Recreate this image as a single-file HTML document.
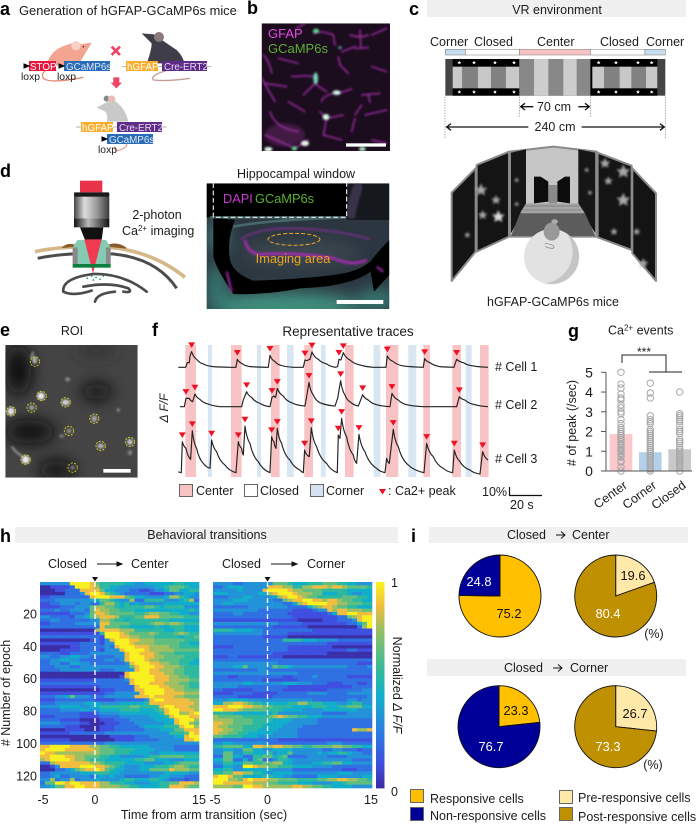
<!DOCTYPE html>
<html lang="en">
<head>
<meta charset="utf-8">
<title>hGFAP-GCaMP6s figure</title>
<style>
html,body{margin:0;padding:0;background:#fff;width:696px;height:824px;overflow:hidden}
svg{display:block}
text{font-family:"Liberation Sans",sans-serif;fill:#1c1c1c;font-size:12.5px}
.pl{font-weight:bold;font-size:18px;fill:#000}
.m{text-anchor:middle}
.e{text-anchor:end}
</style>
</head>
<body>
<svg id="fig" width="696" height="824" viewBox="0 0 696 824" xmlns="http://www.w3.org/2000/svg">
<defs>
<polygon id="star" points="0,-10 2.9,-3.1 9.5,-3.1 4.7,1.5 5.9,8.1 0,4.5 -5.9,8.1 -4.7,1.5 -9.5,-3.1 -2.9,-3.1"/>
<filter id="b1" x="-20%" y="-20%" width="140%" height="140%"><feGaussianBlur stdDeviation="3"/></filter>
<filter id="b2" x="-30%" y="-30%" width="160%" height="160%"><feGaussianBlur stdDeviation="5"/></filter>
<filter id="b3" x="-50%" y="-50%" width="200%" height="200%"><feGaussianBlur stdDeviation="24"/></filter>
<linearGradient id="lens" x1="0" x2="1" y1="0" y2="0"><stop offset="0" stop-color="#444"/><stop offset=".3" stop-color="#ddd"/><stop offset=".65" stop-color="#999"/><stop offset="1" stop-color="#3a3a3a"/></linearGradient>
<linearGradient id="lens2" x1="0" x2="1" y1="0" y2="0"><stop offset="0" stop-color="#111"/><stop offset=".4" stop-color="#bbb"/><stop offset="1" stop-color="#111"/></linearGradient>
<clipPath id="clipB"><rect x="20" y="25" width="385" height="383"/></clipPath>
<clipPath id="clipD"><rect x="620" y="70" width="548" height="377"/></clipPath>
<clipPath id="clipE"><rect x="16" y="105" width="397" height="398"/></clipPath>
</defs>

<!-- panel letters -->
<text class="pl" x="0" y="15">a</text>
<text class="pl" x="247" y="14">b</text>
<text class="pl" x="409" y="15">c</text>
<text class="pl" x="0" y="177">d</text>
<text class="pl" x="0" y="336">e</text>
<text class="pl" x="152" y="336">f</text>
<text class="pl" x="568" y="337">g</text>
<text class="pl" x="0" y="542">h</text>
<text class="pl" x="411" y="542">i</text>

<!-- panel a -->
<g>
<text x="19" y="15" style="font-size:12.9px">Generation of hGFAP-GCaMP6s mice</text>
<g transform="scale(0.3333)">
<path d="M140,195 Q150,150 200,135 Q225,125 245,132 L275,128 L262,150 Q250,170 235,195 Q200,200 140,195Z" fill="#f4a591"/>
<circle cx="228" cy="137" r="14" fill="#f9cfc6"/><circle cx="250" cy="140" r="2.5" fill="#522"/>
<path d="M150,205 Q120,215 130,235 Q150,252 250,232" fill="none" stroke="#e88a78" stroke-width="4"/>
<path d="M425,100 L462,103 Q500,130 530,150 Q550,170 553,190 L440,190 Q455,150 455,130 Z" fill="#3f3d4a"/>
<circle cx="477" cy="111" r="15" fill="#8a7a7a"/>
<path d="M500,212 Q450,225 460,240 Q500,245 570,235" fill="none" stroke="#c49c98" stroke-width="4"/>
<path d="M290,323 Q320,305 340,300 Q375,320 385,365 L320,365 Q325,345 315,335 Z" fill="#c9c9c9"/>
<circle cx="320" cy="296" r="9" fill="#888"/><circle cx="335" cy="297" r="11" fill="#e8bfb8"/>
<path d="M335,140 L360,165 M360,140 L335,165" stroke="#ee4466" stroke-width="8"/>
<path d="M340,232 H358 V248 H366 L349,265 L332,248 H340Z" fill="#ee4466"/>
<path d="M345,440 Q340,458 365,448 Q385,440 380,425" fill="none" stroke="#e88a78" stroke-width="3"/>
<path d="M365,200 H635 M228,381 H500" stroke="#999" stroke-width="2"/>
</g>
<rect x="29" y="61" width="27" height="10" fill="#e8173c"/>
<rect x="64" y="61" width="46" height="10" fill="#2b6cb8"/>
<rect x="126" y="61" width="32" height="10" fill="#f9ae2d"/>
<rect x="162" y="61" width="45" height="10" fill="#5f2c8a"/>
<rect x="81" y="122" width="32" height="10" fill="#f9ae2d"/>
<rect x="117" y="122" width="45" height="10" fill="#5f2c8a"/>
<rect x="107" y="134" width="46" height="10" fill="#2b6cb8"/>
<path d="M24,64 L29,66 L24,68Z M59,64 L64,66 L59,68Z M102,137 L107,139 L102,141Z" fill="#000" stroke="#000"/>
<text x="30" y="70" style="font-size:9.8px;fill:#fff">STOP</text>
<text x="66" y="70" style="font-size:9.8px;fill:#dfe9f7">GCaMP6s</text>
<text x="127" y="70" style="font-size:9.8px;fill:#fff">hGFAP</text>
<text x="164" y="70" style="font-size:9.8px;fill:#e8dcf2">Cre-ERT2</text>
<text x="82" y="131" style="font-size:9.8px;fill:#fff">hGFAP</text>
<text x="119" y="131" style="font-size:9.8px;fill:#e8dcf2">Cre-ERT2</text>
<text x="109" y="143" style="font-size:9.8px;fill:#dfe9f7">GCaMP6s</text>
<text x="21" y="80" style="font-size:10.4px">loxp</text>
<text x="57" y="80" style="font-size:10.4px">loxp</text>
<text x="98" y="153" style="font-size:10.4px">loxp</text>
</g>

<!-- panel b -->
<g transform="translate(255,15) scale(0.3333)">
<g clip-path="url(#clipB)">
<rect x="20" y="25" width="385" height="383" fill="#1b0c1e"/>
<g filter="url(#b1)" fill="none" stroke="#b034b4" stroke-width="4.5" stroke-linecap="round" opacity=".9">
<path d="M175,55 Q200,45 235,60 L240,90 M285,60 Q315,70 340,60 M315,45 L318,100 M300,100 L340,98 M25,120 Q45,140 50,175 M20,190 L60,260 M110,185 Q150,180 185,185 M185,200 L145,240 M185,210 L215,230 M250,125 L255,150 L280,175 M350,155 L395,170 M235,235 Q200,245 200,260 M250,235 L290,222 M320,240 L375,235 M340,240 L345,262 M195,290 L215,310 L265,300 M215,310 L205,360 L260,375 M120,400 L160,375 M300,300 L320,270 M300,310 L290,350 M45,290 Q60,340 130,350 M30,205 L95,215 M70,130 L130,145 M350,375 L395,385 M260,110 L300,95 M350,60 L395,40 M330,300 L395,285 M100,260 L150,290 M125,40 L150,25 M30,360 L110,395"/>
</g>
<g opacity=".3" filter="url(#b2)"><ellipse cx="90" cy="360" rx="60" ry="35" fill="#a040a0"/></g>
<g filter="url(#b1)">
<ellipse cx="183" cy="48" rx="9" ry="7" fill="#5cdf8a"/><ellipse cx="182" cy="190" rx="7" ry="18" fill="#70d8b0"/><ellipse cx="245" cy="233" rx="12" ry="7" fill="#d0fce8"/><ellipse cx="213" cy="306" rx="10" ry="9" fill="#d8ffe4"/><ellipse cx="40" cy="403" rx="12" ry="7" fill="#e8fff0"/><ellipse cx="118" cy="400" rx="8" ry="6" fill="#60e890"/><ellipse cx="150" cy="385" rx="12" ry="8" fill="#eef6f0"/><ellipse cx="322" cy="402" rx="10" ry="6" fill="#b8f0c8"/><ellipse cx="255" cy="98" rx="6" ry="4" fill="#5a9"/>
</g>
<rect x="273" y="385" width="120" height="10" fill="#fff"/>
</g>
</g>
<text x="268" y="38" style="fill:#e24ce2;font-size:13px">GFAP</text>
<text x="268" y="53" style="fill:#5cb030;font-size:13px">GCaMP6s</text>

<!-- panel c -->
<g>
<rect x="427" y="0" width="259" height="17" fill="#f0f0f0"/>
<text class="m" x="557" y="14">VR environment</text>
<text x="430" y="46">Corner</text>
<text x="474" y="46">Closed</text>
<text x="537" y="46">Center</text>
<text x="600" y="46">Closed</text>
<text x="646" y="46">Corner</text>
<g transform="translate(410,0) scale(0.3333)">
<g stroke="#777" stroke-width="1.5">
<rect x="106" y="148" width="60" height="17" fill="#c6dcef"/><rect x="166" y="148" width="162" height="17" fill="#fff"/><rect x="328" y="148" width="213" height="17" fill="#f8c3c5"/><rect x="541" y="148" width="164" height="17" fill="#fff"/><rect x="705" y="148" width="61" height="17" fill="#c6dcef"/>
</g>
<rect x="106" y="177" width="660" height="110" fill="#444"/>
<rect x="128" y="177" width="200" height="110" fill="#000"/><rect x="541" y="177" width="201" height="110" fill="#000"/>
<g fill="#c8c8c8"><rect x="128" y="200" width="29" height="65"/><rect x="203" y="200" width="40" height="65"/><rect x="287" y="200" width="41" height="65"/><rect x="547" y="200" width="36" height="65"/><rect x="628" y="200" width="37" height="65"/><rect x="708" y="200" width="34" height="65"/></g>
<g fill="#828282"><rect x="157" y="200" width="46" height="65"/><rect x="243" y="200" width="44" height="65"/><rect x="583" y="200" width="45" height="65"/><rect x="665" y="200" width="43" height="65"/></g>
<rect x="328" y="177" width="213" height="110" fill="#888"/>
<rect x="372" y="177" width="43" height="110" fill="#cdcdcd"/><rect x="460" y="177" width="40" height="110" fill="#cdcdcd"/>
<g fill="#fff">
<use href="#star" transform="translate(148,188) scale(.6)"/><use href="#star" transform="translate(192,188) scale(.6)"/><use href="#star" transform="translate(255,188) scale(.6)"/><use href="#star" transform="translate(312,188) scale(.6)"/><use href="#star" transform="translate(566,188) scale(.6)"/><use href="#star" transform="translate(618,188) scale(.6)"/><use href="#star" transform="translate(684,188) scale(.6)"/><use href="#star" transform="translate(725,188) scale(.6)"/>
<use href="#star" transform="translate(148,276) scale(.6)"/><use href="#star" transform="translate(192,276) scale(.6)"/><use href="#star" transform="translate(255,276) scale(.6)"/><use href="#star" transform="translate(312,276) scale(.6)"/><use href="#star" transform="translate(566,276) scale(.6)"/><use href="#star" transform="translate(618,276) scale(.6)"/><use href="#star" transform="translate(684,276) scale(.6)"/><use href="#star" transform="translate(725,276) scale(.6)"/>
</g>
<path d="M105,290 V415 M766,290 V415 M328,290 V350 M541,290 V350" stroke="#777" stroke-width="2" stroke-dasharray="4 4" fill="none"/>
<g fill="none" stroke="#111" stroke-width="4">
<path d="M332,320 H370 M345,310 L332,320 L345,330 M505,320 H537 M525,310 L538,320 L525,330"/>
<path d="M110,381 H355 M123,371 L110,381 L123,391 M515,381 H762 M750,371 L763,381 L750,391"/>
</g>
<!-- VR screens -->
<g stroke="#8a8a8a" stroke-width="6" stroke-linejoin="round">
<polygon points="125,578 197,505 197,755 125,843" fill="#141414"/>
<polygon points="200,495 297,455 297,710 200,755" fill="#141414"/>
<polygon points="300,455 430,440 560,455 560,710 300,710" fill="#c6c6c6"/>
<polygon points="563,458 665,497 665,750 563,712" fill="#141414"/>
<polygon points="667,505 738,580 738,843 667,760" fill="#141414"/>
</g>
<polygon points="303,458 348,448 348,620 303,700" fill="#161616"/>
<polygon points="505,448 556,458 556,700 505,620" fill="#161616"/>
<polygon points="372,530 392,530 415,545 415,605 372,610" fill="#0c0c0c"/>
<polygon points="442,545 465,530 480,530 480,610 442,605" fill="#0c0c0c"/>
<rect x="416" y="555" width="25" height="55" fill="#8a8a8a"/>
<polygon points="348,610 505,610 525,640 330,640" fill="#a5a5a5"/>
<polygon points="330,640 525,640 556,708 303,708" fill="#5c5c5c"/>
<g stroke="#777" stroke-width="2"><path d="M345,618 H510 M338,630 H518"/></g>
<g fill="#a8a8a8" filter="url(#b1)">
<use href="#star" transform="translate(213,570) scale(2)"/><use href="#star" transform="translate(258,600) scale(1.5)"/><use href="#star" transform="translate(265,650) scale(2)" fill="#ddd"/><use href="#star" transform="translate(218,645) scale(1.5)"/><use href="#star" transform="translate(172,705) scale(1)"/><use href="#star" transform="translate(320,540) scale(.8)"/><use href="#star" transform="translate(320,612) scale(.8)"/><use href="#star" transform="translate(530,510) scale(.8)"/><use href="#star" transform="translate(540,578) scale(.8)"/><use href="#star" transform="translate(585,490) scale(1.7)"/><use href="#star" transform="translate(640,515) scale(2.2)"/><use href="#star" transform="translate(595,543) scale(1.4)"/><use href="#star" transform="translate(640,600) scale(2.2)"/><use href="#star" transform="translate(612,695) scale(1.2)"/><use href="#star" transform="translate(680,695) scale(1.2)"/><use href="#star" transform="translate(700,790) scale(1.6)"/>
</g>
<circle cx="425" cy="770" r="83" fill="#e2e2e2"/>
<path d="M470,700 A83,83 0 0 1 405,850 A95,95 0 0 0 470,700Z" fill="#c5c5c5"/>
<ellipse cx="425" cy="695" rx="24" ry="27" fill="#999"/><ellipse cx="434" cy="665" rx="10" ry="7" fill="#aaa"/>
<path d="M405,730 Q440,735 430,745 Q410,745 405,738" fill="none" stroke="#777" stroke-width="2"/>
</g>
<text class="m" x="554" y="111">70 cm</text>
<text class="m" x="555" y="131">240 cm</text>
<text class="m" x="553" y="306">hGFAP-GCaMP6s mice</text>
</g>

<!-- panel d -->
<g>
<g transform="translate(0,160) scale(0.3333)">
<path d="M105,275 Q200,255 330,262 Q460,275 555,352" fill="none" stroke="#d4b888" stroke-width="11"/>
<path d="M113,295 Q210,275 340,282 Q470,295 530,385" fill="none" stroke="#4c4c4c" stroke-width="9"/>
<path d="M190,262 Q205,248 232,258 Z M320,258 Q350,245 378,264 Z" fill="#8a5a2a" stroke="#8a5a2a" stroke-width="4"/>
<rect x="240" y="62" width="67" height="35" fill="#e8334a"/>
<rect x="222" y="97" width="106" height="14" fill="#1a1a1a" rx="3"/>
<rect x="222" y="110" width="106" height="65" fill="url(#lens)"/>
<rect x="222" y="175" width="106" height="27" fill="url(#lens2)"/>
<polygon points="240,202 310,202 305,240 255,240" fill="#111"/>
<polygon points="232,240 318,240 332,262 332,312 218,312 218,262" fill="#85cbb4"/>
<path d="M218,262 H233 V312 H218Z M318,262 H332 V312 H318Z" fill="#8a8a8a"/>
<polygon points="253,238 305,238 279,340" fill="#ef3a50"/>
<rect x="218" y="312" width="114" height="11" fill="#0c7f3f"/>
<path d="M190,395 Q185,355 280,342 Q370,340 440,395 M250,380 Q330,365 385,385 Q400,400 370,395 M190,395 Q220,410 275,392 M285,425 Q290,400 345,395" fill="none" stroke="#4c4c4c" stroke-width="8" stroke-linecap="round"/>
<g fill="#0c8f5f"><circle cx="262" cy="355" r="2.5"/><circle cx="275" cy="348" r="2.5"/><circle cx="288" cy="352" r="2.5"/><circle cx="300" cy="358" r="2.5"/><circle cx="310" cy="348" r="2.5"/><circle cx="280" cy="360" r="2.5"/></g>
</g>
<text class="m" x="157" y="219">2-photon</text>
<text x="122" y="235">Ca<tspan dy="-4" style="font-size:8px">2+</tspan><tspan dy="4"> imaging</tspan></text>
<text class="m" x="296" y="178">Hippocampal window</text>
<g transform="translate(0,160) scale(0.3333)">
<g clip-path="url(#clipD)">
<rect x="620" y="70" width="548" height="377" fill="#2c3640"/>
<g filter="url(#b3)"><ellipse cx="850" cy="440" rx="230" ry="45" fill="#3f9080"/><ellipse cx="650" cy="390" rx="35" ry="80" fill="#35766e"/><ellipse cx="1130" cy="420" rx="60" ry="35" fill="#357a72"/><ellipse cx="655" cy="230" rx="28" ry="50" fill="#44807e"/><ellipse cx="900" cy="280" rx="180" ry="40" fill="#3a4650"/></g>
<rect x="620" y="70" width="420" height="102" fill="#000"/>
<rect x="1040" y="70" width="128" height="110" fill="#15181c"/>
<path d="M1050,175 Q1060,110 1080,70" stroke="#3a3048" stroke-width="30" fill="none" filter="url(#b1)"/>
<path d="M640,172 L705,180 Q680,240 690,300 Q700,340 760,362 Q900,358 1000,345 Q1080,335 1110,305 L1112,335 Q1050,380 900,385 Q800,405 700,402 Q650,330 640,290 Z" fill="#000"/>
<path d="M1168,240 Q1120,290 1108,310 L1122,395 L1168,345 Z" fill="#000"/>
<path d="M630,172 H1040 Q800,180 700,200" fill="none" stroke="#5a8a88" stroke-width="8" opacity=".6"/>
<g fill="none" filter="url(#b1)">
<path d="M722,238 Q760,210 850,205 Q1000,205 1110,238" stroke="#7a2f90" stroke-width="5"/>
<path d="M735,240 Q745,290 800,282 Q900,278 1000,295 Q1060,320 1100,300" stroke="#a92cb2" stroke-width="8"/>
<path d="M680,335 L695,395" stroke="#a92cb2" stroke-width="6"/>
<path d="M1130,320 L1150,335" stroke="#a92cb2" stroke-width="6"/>
</g>
<path d="M640,70 V172 H1040 V70" fill="none" stroke="#e8e8e8" stroke-width="3.5" stroke-dasharray="14 8"/>
<ellipse cx="882" cy="238" rx="78" ry="18" fill="none" stroke="#f0a820" stroke-width="3" stroke-dasharray="12 6"/>
<rect x="1010" y="420" width="140" height="12" fill="#fff"/>
</g>
</g>
<text x="223" y="203" style="fill:#c83ad0;font-size:12.8px">DAPI</text>
<text x="255" y="203" style="fill:#5cb030;font-size:12.8px">GCaMP6s</text>
<text class="m" x="293" y="263" style="fill:#eda31e;font-size:12.8px">Imaging area</text>
</g>

<!-- panel e -->
<g>
<text class="m" x="72" y="335">ROI</text>
<g transform="translate(0,310) scale(0.3333)">
<g clip-path="url(#clipE)">
<rect x="16" y="105" width="397" height="398" fill="#444"/>
<g filter="url(#b3)" fill="#080808">
<ellipse cx="55" cy="180" rx="40" ry="75"/><ellipse cx="90" cy="365" rx="75" ry="35"/><ellipse cx="290" cy="245" rx="45" ry="25"/><ellipse cx="170" cy="480" rx="55" ry="28"/><ellipse cx="290" cy="120" rx="60" ry="15" fill="#2a2a2a"/>
</g>
<g filter="url(#b1)" fill="#fff">
<ellipse cx="104" cy="150" rx="8" ry="12" fill="#aaa"/><ellipse cx="123" cy="258" rx="11" ry="11" fill="#e8e8e8"/><ellipse cx="197" cy="277" rx="12" ry="9" fill="#d0d0d0"/><ellipse cx="33" cy="304" rx="11" ry="12" fill="#e0e0e0"/><ellipse cx="95" cy="293" rx="8" ry="8" fill="#a0a0a0"/><ellipse cx="283" cy="326" rx="9" ry="10" fill="#a0a0a0"/><ellipse cx="207" cy="363" rx="7" ry="7" fill="#909090"/><ellipse cx="390" cy="396" rx="9" ry="9" fill="#c0c0c0"/><ellipse cx="302" cy="408" rx="10" ry="8" fill="#b0b0b0"/><ellipse cx="77" cy="449" rx="12" ry="12" fill="#e8e8e8"/><ellipse cx="218" cy="473" rx="6" ry="7" fill="#808080"/><ellipse cx="203" cy="208" rx="7" ry="6" fill="#909090"/><ellipse cx="355" cy="300" rx="5" ry="5" fill="#909090"/><ellipse cx="390" cy="428" rx="7" ry="8" fill="#808080"/><ellipse cx="185" cy="378" rx="7" ry="5" fill="#808080"/>
<path d="M35,410 Q55,435 70,440 M100,125 L92,145" stroke="#aaa" stroke-width="5" fill="none"/>
</g>
<g fill="none" stroke="#e0d820" stroke-width="2.6" stroke-dasharray="6 4">
<circle cx="105" cy="155" r="14"/><circle cx="125" cy="258" r="14"/><circle cx="197" cy="277" r="14"/><circle cx="33" cy="304" r="14"/><circle cx="95" cy="293" r="14"/><circle cx="283" cy="326" r="14"/><circle cx="207" cy="363" r="14"/><circle cx="390" cy="396" r="14"/><circle cx="302" cy="408" r="14"/><circle cx="77" cy="449" r="14"/><circle cx="218" cy="473" r="14"/>
</g>
<rect x="310" y="477" width="82" height="11" fill="#fff"/>
</g>
</g>
</g>

<!-- panel f static -->
<g>
<text class="m" x="348" y="336" style="font-size:13.5px">Representative traces</text>
<text transform="translate(168,408) rotate(-90)" class="m" style="font-style:italic;font-size:12px">Δ F/F</text>
<g id="fBands"></g>
<g id="fTraces"></g>
<text x="495" y="371"># Cell 1</text>
<text x="495" y="409"># Cell 2</text>
<text x="495" y="463"># Cell 3</text>
<rect x="179.5" y="484.5" width="13" height="12" fill="#f8c3c5" stroke="#666"/>
<text x="196" y="495">Center</text>
<rect x="244.5" y="484.5" width="13" height="12" fill="#fff" stroke="#666"/>
<text x="260" y="495">Closed</text>
<rect x="310.5" y="484.5" width="13" height="12" fill="#d3e3f2" stroke="#666"/>
<text x="326" y="495">Corner</text>
<path d="M379,489 H386 L382.5,494.5Z" fill="#ee1122"/>
<text x="388" y="495">: Ca2+ peak</text>
<text x="482" y="496">10%</text>
<path d="M509.5,487 V495.5 H542" fill="none" stroke="#111" stroke-width="1.2"/>
<text x="510" y="509">20 s</text>
</g>

<!-- panel g static -->
<g>
<text x="608" y="334.5">Ca<tspan dy="-4" style="font-size:8px">2+</tspan><tspan dy="4"> events</tspan></text>
<path d="M622,363 V355 H666 V372 M649,372 H682" fill="none" stroke="#222"/>
<text class="m" x="644" y="356" style="font-size:12px">***</text>
<text transform="translate(576,423) rotate(-90)" class="m"># of peak (/sec)</text>
<g id="gChart"></g>
</g>

<!-- panel h static -->
<g>
<rect x="15" y="527" width="383" height="16" fill="#f0f0f0"/>
<text class="m" x="207" y="539">Behavioral transitions</text>
<text x="48" y="568">Closed</text>
<path d="M97,564 H120 M117,562 L122,564 L117,566Z" stroke="#111" fill="#111"/>
<text x="131" y="568">Center</text>
<text x="222" y="568">Closed</text>
<path d="M271,564 H295 M292,562 L297,564 L292,566Z" stroke="#111" fill="#111"/>
<text x="307" y="568">Corner</text>
<g id="heatGroup"></g>
<text transform="translate(10,693) rotate(-90)" class="m"># Number of epoch</text>
<text class="m" x="204" y="819">Time from arm transition (sec)</text>
<text x="391" y="587">1</text>
<text x="391" y="796">0</text>
<text transform="translate(393,685) rotate(90)" class="m">Normalized  <tspan style="font-style:italic">Δ F/F</tspan></text>
</g>

<!-- panel i static -->
<g>
<rect x="429" y="527" width="259" height="16" fill="#f0f0f0"/>
<text x="507" y="539">Closed</text>
<path d="M556,535 H565 M561,531.5 L565,535 L561,538.5" fill="none" stroke="#111"/>
<text x="572" y="539">Center</text>
<rect x="427" y="659" width="259" height="17" fill="#f0f0f0"/>
<text x="504" y="672">Closed</text>
<path d="M553,668 H562 M558,664.5 L562,668 L558,671.5" fill="none" stroke="#111"/>
<text x="570" y="672">Corner</text>
<g id="pies"></g>
<text class="m" x="654" y="638">(%)</text>
<text class="m" x="653" y="769">(%)</text>
<rect x="410.5" y="789.5" width="13" height="13" fill="#ffc000" stroke="#666"/>
<text x="430" y="803">Responsive cells</text>
<rect x="410.5" y="807.5" width="13" height="13" fill="#000099" stroke="#666"/>
<text x="430" y="820">Non-responsive cells</text>
<rect x="559.5" y="790.5" width="13" height="13" fill="#ffe8a8" stroke="#666"/>
<text x="578" y="802">Pre-responsive cells</text>
<rect x="559.5" y="807.5" width="13" height="13" fill="#bf9000" stroke="#666"/>
<text x="578" y="821">Post-responsive cells</text>
</g>
</svg>

<script>
/* ---------- panel f data (frames at 5 Hz, dF/F in arbitrary units) ---------- */
const cell1Frames=[0,22,27,33,35,40,55,75,105,155,173,177,190,215,270,275,290,310,345,375,380,385,395,401,420,445,471,478,482,488,495,515,545,585,623,627,645,675,735,739,755,785,827,835,855,885,929];
const cell1Values=[0,0,14,14,34,47,24,10,2,0,0,24,12,2,0,36,17,5,0,0,22,20,24,46,24,10,0,2,24,22,44,22,7,0,0,34,17,4,0,26,14,2,0,24,14,4,0];
const cell1Peaks=[40,177,275,380,401,482,495,627,739,835];
const cell2Frames=[5,18,23,33,43,50,65,90,125,190,195,205,220,245,275,281,287,292,297,315,340,380,385,392,405,425,470,478,487,500,515,540,547,553,570,595,635,641,660,685,735,835,843,860,890,929];
const cell2Values=[0,0,25,25,15,38,22,8,0,0,20,45,28,10,0,28,32,28,55,32,12,2,30,73,35,12,2,25,78,35,15,2,20,36,20,6,0,40,20,6,0,0,30,20,6,0];
const cell2Peaks=[23,50,205,281,297,392,487,553,641,843];
const cell3Frames=[0,9,12,23,37,42,55,75,95,100,115,140,173,180,190,195,200,215,240,275,280,287,293,297,310,335,365,375,379,387,393,399,415,445,477,480,485,490,505,525,535,542,560,595,620,625,633,645,660,690,737,745,765,795,823,828,845,875,905,913,929];
const cell3Values=[3,0,93,73,40,126,73,28,13,98,63,23,0,93,73,53,140,88,33,0,108,93,73,133,88,38,8,0,68,53,48,135,78,28,0,113,103,163,108,53,28,115,63,13,0,43,28,130,78,23,0,88,48,13,0,68,33,8,-4,63,38];
const cell3Peaks=[12,42,100,180,200,280,297,379,399,480,490,542,645,745,828,913];
const centerBandStart=[21,158,278,378,500,623,735,822,905];
const centerBandEnd=[53,190,304,404,526,660,755,848,931];
const cornerBandStart=[89,236,326,428,586,690,862];
const cornerBandEnd=[101,248,346,442,606,714,880];

/* ---------- panel g data ---------- */
const eventCategories=['Center','Corner','Closed'];
const eventMeans=[1.87,0.95,1.1];
const centerEvents=[0,0.2,0.45,0.5,0.7,0.85,0.9,1,1.05,1.1,1.2,1.3,1.35,1.4,1.5,1.6,1.7,1.8,1.9,2,2.1,2.2,2.4,2.6,2.9,3,3.2,3.35,3.6,3.7,3.9,4.2,4.4,5];
const cornerEvents=[0,0.1,0.2,0.3,0.4,0.5,0.6,0.7,0.8,0.9,1,1.1,1.2,1.3,1.4,1.5,1.6,1.7,1.8,1.9,2,2.1,2.4,2.5,2.6,2.8,3.7,3.95,4.45];
const closedEvents=[0,0.2,0.3,0.4,0.5,0.6,0.7,0.8,0.9,1,1.1,1.2,1.4,1.5,1.6,1.9,2,2.1,2.3,2.5,2.6,2.7,2.8,2.9,4];
const eventTicks=[0,1,2,3,4,5];

/* ---------- panel i data ---------- */
const pieCenterAll=[75.2,24.8];
const pieCenterResp=[19.6,80.4];
const pieCornerAll=[23.3,76.7];
const pieCornerResp=[26.7,73.3];

/* ---------- panel h data (levels 0-9, normalized dF/F x 9) ---------- */
const epochTicks=[20,40,60,80,100,120];
const timeTicks=[-5,0,15];
const heatCenter=[
[3,3,3,3,3,3,9,9,9,9,8,6,5,5,5,5,5,4,4,3,3,4,4,4,4,4,4,5,5,4,4,4],
[0,0,1,1,1,1,2,9,9,9,8,7,5,5,4,4,3,3,3,3,3,3,3,4,4,5,6,6,6,5,4,4],
[0,0,0,1,1,2,2,2,8,8,8,8,6,4,4,3,3,3,2,2,1,1,2,3,3,4,6,6,4,4,5,5],
[0,0,0,0,0,2,2,2,3,8,9,9,8,6,5,4,3,2,2,2,2,2,1,1,1,2,2,3,3,4,4,3],
[1,1,2,2,2,2,2,2,2,2,8,9,9,9,8,8,8,6,5,4,4,3,3,3,3,4,7,7,5,4,3,3],
[2,2,2,3,3,3,3,3,3,3,4,4,6,6,5,4,3,3,7,2,2,5,5,5,5,3,3,3,4,5,7,2],
[1,1,2,2,3,3,3,2,3,3,2,2,5,7,7,5,4,5,3,4,3,3,3,3,3,4,4,4,4,4,4,4],
[1,1,1,1,2,2,2,3,3,3,6,7,7,6,6,5,4,5,5,5,5,6,6,5,4,5,5,5,5,3,3,3],
[2,2,2,3,2,2,3,3,3,2,6,8,7,7,6,6,5,5,5,4,4,4,4,4,4,4,4,4,4,4,5,4],
[1,1,1,1,1,1,2,2,2,3,6,8,8,7,6,6,6,6,6,5,5,6,7,7,6,6,5,5,4,4,3,3],
[3,3,2,2,2,2,1,3,3,4,6,7,8,8,8,7,5,5,5,6,6,8,8,8,6,6,6,6,6,5,5,5],
[2,2,3,3,2,2,2,2,2,2,3,3,7,7,6,5,5,4,5,5,5,5,5,5,5,5,4,4,4,4,4,4],
[1,1,2,2,2,2,2,3,3,3,3,3,8,8,6,6,6,6,5,5,5,5,6,7,7,6,7,7,6,5,5,5],
[2,2,2,2,2,2,2,2,2,2,2,2,8,6,6,6,5,5,4,4,4,4,4,5,4,4,5,5,5,4,4,4],
[0,0,0,0,0,0,0,0,0,0,0,7,8,8,8,8,7,7,7,5,5,5,5,5,5,4,4,5,5,4,4,4],
[1,1,1,1,1,1,1,1,1,1,1,1,5,9,9,9,8,7,6,6,6,6,7,6,5,5,5,6,7,6,5,5],
[2,2,2,2,2,2,2,2,2,2,2,2,1,9,9,9,8,8,7,7,6,6,6,5,5,5,5,5,4,5,5,6],
[0,0,0,0,0,0,0,0,0,0,1,2,1,3,8,9,9,9,8,8,7,7,7,6,6,6,6,6,6,5,5,5],
[1,1,1,1,1,1,1,1,2,2,2,2,1,3,3,9,9,9,8,7,7,7,7,6,6,6,6,6,5,5,4,4],
[0,0,0,0,0,0,1,1,2,2,2,2,2,3,2,8,9,9,9,8,8,8,7,7,7,7,6,6,5,5,5,5],
[0,0,0,0,1,1,1,1,2,2,2,2,1,3,3,3,8,9,9,9,9,8,7,7,7,7,7,6,6,6,6,6],
[2,2,2,2,1,1,2,2,2,2,3,3,3,3,3,3,3,8,9,9,8,8,8,7,6,6,6,5,5,5,5,5],
[3,3,2,2,3,3,4,4,3,3,2,2,2,2,2,3,3,8,9,9,9,8,8,7,7,6,6,6,6,5,5,5],
[2,2,3,3,4,4,3,3,2,2,2,2,2,3,3,2,3,8,9,9,9,8,7,7,6,6,6,6,5,5,5,4],
[2,2,3,3,2,2,4,4,3,3,2,2,2,2,2,2,2,3,8,9,9,9,8,8,7,7,6,6,5,5,4,4],
[2,2,2,3,3,3,2,2,3,3,3,3,3,3,3,3,3,3,6,8,9,9,9,8,8,7,7,7,6,5,5,5],
[2,2,2,2,3,3,3,3,3,3,3,3,2,2,2,3,3,3,3,8,9,9,8,8,7,7,7,6,6,5,5,5],
[0,0,0,0,0,0,0,0,0,0,0,0,0,0,0,0,0,8,9,9,9,9,8,8,8,7,7,6,6,5,5,5],
[0,0,0,0,0,0,0,0,0,0,0,0,0,0,0,0,1,8,9,9,9,9,9,8,8,8,7,7,6,6,5,5],
[1,1,1,1,1,1,1,1,1,1,1,2,2,2,2,2,2,3,8,9,9,9,9,8,8,8,7,7,7,7,6,6],
[2,2,2,2,2,2,2,2,2,2,2,2,2,2,2,2,2,2,8,9,9,9,8,8,8,7,7,7,6,6,5,5],
[1,1,1,1,1,1,1,1,1,1,1,1,2,2,2,2,2,2,2,8,9,9,9,9,8,8,7,7,7,6,5,5],
[0,0,0,0,0,0,0,0,0,0,0,0,1,1,1,2,2,2,2,8,8,9,9,9,9,8,8,7,7,6,6,6],
[1,1,1,1,1,1,1,1,1,1,1,1,1,2,2,3,3,3,3,3,8,9,9,9,9,8,8,8,8,7,7,7],
[2,2,2,3,3,4,6,3,3,3,2,2,2,3,3,3,3,3,3,8,8,8,9,8,8,8,8,7,7,6,6,6],
[1,1,1,2,2,2,2,2,2,2,2,1,1,1,1,2,2,2,2,2,2,3,8,9,9,8,8,8,8,8,7,7],
[2,2,2,3,3,3,3,3,3,4,4,4,3,3,3,3,4,4,4,4,4,5,8,8,8,8,8,8,8,8,8,7],
[3,3,3,3,4,4,4,4,3,3,4,4,5,5,5,5,5,5,6,6,5,5,5,5,8,9,9,8,8,8,7,7],
[2,2,2,2,3,3,3,3,4,4,3,3,4,4,4,4,5,5,5,5,4,4,4,5,6,8,9,9,8,8,8,7],
[2,2,2,2,2,2,2,2,1,1,1,2,3,3,3,3,4,4,4,4,4,4,4,4,5,8,9,9,7,7,8,9],
[1,1,1,2,2,2,2,2,1,1,1,1,2,2,2,2,3,3,3,3,3,3,4,4,4,5,8,9,9,9,8,8],
[2,2,2,2,1,1,1,1,0,0,0,0,1,1,1,2,2,2,3,3,3,3,3,4,4,4,4,8,9,9,9,7],
[3,3,3,3,2,2,2,2,1,1,0,0,0,1,1,1,2,2,2,3,3,3,3,3,3,4,4,8,9,9,7,6],
[2,2,2,2,2,1,1,1,0,0,0,0,1,1,1,2,2,2,2,2,3,4,4,4,4,5,5,5,8,9,9,7],
[0,0,0,0,0,1,1,1,1,0,0,0,1,1,1,2,2,2,2,2,2,3,3,3,4,4,4,6,6,8,8,8],
[1,1,1,1,1,1,2,2,2,2,2,2,2,3,3,3,3,3,3,3,3,3,3,3,3,3,5,5,5,6,9,8],
[0,0,0,0,0,0,0,0,0,0,0,0,0,0,1,1,1,1,1,2,2,2,3,3,3,3,3,4,4,8,9,9],
[1,1,1,1,1,1,0,0,0,0,0,0,0,0,0,1,1,1,1,2,2,2,2,2,3,3,3,3,3,8,8,9],
[2,2,2,2,2,2,2,2,2,2,2,2,2,3,3,3,3,3,3,3,3,3,3,3,3,3,3,3,3,3,3,3],
[8,8,9,9,9,9,8,8,8,8,7,7,6,6,5,5,4,4,4,4,4,4,3,3,3,3,3,2,2,2,2,2],
[8,9,9,9,9,8,8,8,8,8,8,7,6,6,6,5,5,5,5,4,4,4,4,3,3,3,3,2,2,2,2,2],
[9,8,8,7,7,7,7,7,7,7,7,7,6,6,6,5,5,5,4,4,4,4,3,3,4,4,4,4,4,4,4,4],
[8,8,9,9,9,8,8,7,7,6,6,6,5,5,4,4,3,3,3,3,3,4,5,5,6,6,6,6,6,5,5,5],
[7,8,9,9,9,9,8,7,7,6,5,5,5,4,4,4,4,4,4,5,5,6,6,4,4,4,3,3,3,4,4,4],
[2,2,7,8,8,8,8,8,8,8,7,7,6,5,5,5,5,4,4,4,4,3,3,3,3,4,4,5,6,6,6,6],
[0,0,1,3,8,8,8,8,9,9,9,8,8,7,6,5,4,3,3,3,4,4,4,5,5,5,6,7,7,6,5,5],
[0,0,0,2,2,3,4,6,7,8,8,9,8,6,5,4,4,3,3,3,4,4,6,6,6,6,8,7,7,7,6,6],
[2,2,3,3,3,3,3,3,4,4,4,5,5,5,4,4,3,3,3,3,3,3,3,3,3,4,4,4,4,4,3,3],
[2,2,3,4,2,2,3,3,3,3,2,3,4,3,4,3,3,2,2,2,2,2,3,3,4,4,3,3,3,2,2,2],
[3,3,7,2,3,3,7,2,3,3,3,4,3,3,3,3,4,5,5,4,4,4,5,5,4,3,2,2,2,1,2,2],
[2,6,6,9,9,8,9,9,8,8,8,8,7,7,5,5,5,4,4,3,3,3,4,4,5,5,6,6,8,8,8,7],
[3,3,4,6,6,8,8,9,9,8,8,8,7,7,7,7,6,6,5,5,4,4,4,4,5,5,8,8,8,7,6,6]
];
const heatCorner=[
[3,3,3,3,2,2,3,3,3,3,3,3,6,6,6,5,4,4,4,5,5,5,6,6,6,5,5,4,4,3,3,3],
[2,2,3,4,4,4,3,3,3,3,3,8,8,8,7,7,5,5,7,7,8,8,8,7,8,8,7,6,6,6,6,5],
[3,3,3,3,3,4,3,3,3,3,8,9,9,9,9,8,7,7,6,6,6,6,5,5,5,5,5,4,4,4,4,4],
[4,4,4,3,3,3,3,3,3,4,4,7,8,9,9,9,8,7,7,7,6,6,4,4,4,5,5,4,3,3,4,4],
[2,2,2,3,3,3,4,4,3,3,3,3,4,7,8,9,9,8,7,6,6,5,5,5,5,5,6,6,6,5,5,4],
[3,3,3,3,4,4,4,3,3,3,3,3,2,2,6,7,8,8,9,9,8,8,7,8,8,7,6,6,5,5,4,4],
[3,3,4,4,3,3,3,3,3,3,3,3,3,3,2,2,4,7,8,9,9,9,9,8,8,7,7,6,6,6,5,5],
[2,2,2,2,2,2,2,3,3,3,3,3,3,3,3,2,2,2,2,4,6,7,8,8,7,6,6,5,5,4,4,4],
[3,3,3,3,3,3,3,3,3,2,2,2,2,2,2,2,1,1,1,1,2,3,3,8,7,8,8,7,7,7,6,6],
[2,2,2,2,3,3,2,2,2,2,2,2,2,2,2,1,1,1,1,1,1,1,1,2,4,8,8,9,9,8,8,8],
[2,2,2,2,2,2,2,2,2,2,2,2,2,2,2,2,1,1,1,1,1,1,1,1,1,2,2,6,7,8,9,9],
[1,1,1,1,1,1,1,1,1,1,1,1,1,1,1,1,1,0,0,0,0,0,1,1,1,2,2,2,3,8,9,9],
[3,3,3,3,3,3,3,3,3,3,3,3,3,2,2,2,2,2,1,1,1,1,1,1,1,1,1,2,2,4,6,9],
[2,2,2,2,2,2,2,2,2,2,2,2,1,1,1,1,1,1,1,0,0,0,0,0,0,0,0,0,0,2,7,9],
[5,5,5,5,4,4,4,4,3,3,2,2,2,2,2,2,2,2,2,2,1,1,1,1,1,1,1,1,1,1,1,1],
[3,3,3,3,3,3,3,3,3,3,2,2,2,2,2,1,1,1,1,1,1,1,1,1,1,1,1,1,1,1,1,1],
[2,2,2,2,2,2,2,2,2,2,1,1,1,1,1,0,0,0,0,0,0,0,0,0,0,0,0,0,0,0,0,0],
[2,2,2,2,2,2,2,2,2,2,2,2,2,2,5,5,5,5,4,4,4,3,3,3,3,2,2,2,2,2,2,2],
[2,2,2,2,2,2,2,2,2,2,2,2,2,2,2,2,2,2,2,2,2,2,2,1,1,1,1,1,1,1,1,1],
[1,1,1,1,2,2,2,2,2,2,2,2,2,2,2,1,1,1,1,1,1,1,1,1,0,0,0,0,0,0,0,0],
[2,2,2,2,2,2,2,2,2,2,2,2,2,2,2,1,1,1,1,1,1,1,1,1,1,1,1,2,2,1,1,1],
[2,2,2,2,2,2,2,2,2,2,2,2,1,1,1,1,1,1,1,1,1,1,1,0,0,0,0,0,0,0,0,0],
[1,1,1,2,2,1,1,1,1,1,1,1,1,1,0,0,0,0,0,0,0,0,0,0,0,0,0,0,0,0,0,0],
[2,2,2,2,2,2,2,2,2,2,2,2,2,2,2,2,2,2,2,2,2,2,2,2,2,2,2,2,2,2,2,2],
[3,3,3,3,3,3,3,3,3,3,3,3,3,2,2,2,2,2,2,2,2,2,2,2,2,2,2,2,2,1,1,1],
[3,3,3,3,4,4,6,3,3,3,3,3,6,5,5,4,3,3,3,3,3,3,3,3,3,3,3,2,2,2,2,3],
[2,2,2,2,2,2,2,2,2,3,3,2,2,2,2,2,2,2,2,2,2,2,2,2,2,2,2,2,2,2,2,2],
[3,3,3,3,3,3,3,3,3,3,3,3,3,3,3,3,3,2,2,2,2,2,2,2,2,2,2,2,2,2,2,2],
[2,2,2,1,1,2,2,2,2,2,2,2,2,2,1,1,2,2,2,2,3,2,2,2,2,2,2,1,1,1,1,1],
[2,2,2,2,2,2,2,2,2,2,1,1,1,1,1,1,1,2,2,2,2,2,2,2,2,2,2,2,2,2,2,2],
[3,3,3,3,3,3,4,4,3,3,3,3,3,3,4,4,4,3,3,3,2,2,2,1,1,1,2,2,2,1,1,2],
[3,3,3,3,3,2,2,2,2,2,2,2,2,2,2,1,1,1,1,1,1,1,1,1,1,1,1,1,2,2,2,2],
[2,2,1,1,1,1,1,1,2,2,2,2,2,2,1,1,1,1,1,1,1,1,1,2,2,2,2,2,2,2,3,3],
[1,1,1,1,2,2,2,2,1,1,1,1,1,2,2,2,2,2,2,3,3,3,3,2,2,2,2,3,3,3,3,3],
[2,2,2,2,2,1,1,1,1,1,1,1,2,2,2,2,2,2,2,2,2,2,2,2,2,2,2,2,2,2,2,3],
[3,3,3,4,4,4,4,3,3,3,3,3,3,3,3,3,3,3,3,3,2,2,2,2,2,2,2,3,3,2,3,3],
[4,4,7,7,8,8,7,6,5,5,4,4,4,4,4,5,5,7,7,5,5,5,4,4,4,3,3,4,5,5,3,3],
[8,8,8,9,9,9,8,8,7,7,6,6,5,5,5,5,4,4,4,4,5,5,5,4,4,5,5,6,6,6,4,4],
[9,9,8,8,8,7,6,6,6,6,6,5,5,5,4,4,4,4,3,3,3,3,4,4,4,4,4,4,4,3,3,3],
[5,5,5,5,4,4,4,4,4,4,4,4,5,3,3,3,3,3,3,3,3,3,2,2,2,2,2,3,3,3,3,3],
[7,6,6,6,6,6,5,5,5,5,5,6,7,8,7,6,6,5,5,4,4,4,3,3,3,3,3,3,3,3,3,3],
[7,7,7,7,6,6,6,6,5,5,5,5,4,4,4,4,3,3,3,3,3,2,2,2,2,2,2,2,2,2,2,2],
[8,8,7,7,6,6,6,6,5,5,5,4,4,4,4,3,3,3,3,3,3,2,2,2,2,2,2,2,2,2,2,2],
[8,7,7,6,6,6,5,5,5,5,4,4,4,4,3,3,3,3,2,2,2,2,2,2,2,2,2,2,2,2,2,2],
[8,8,7,7,6,6,5,5,5,4,4,4,4,3,3,3,3,2,2,2,2,2,2,2,2,2,2,2,8,7,7,8],
[8,7,7,6,6,5,5,4,4,4,4,4,3,3,3,3,3,2,2,2,2,2,2,2,2,2,2,2,2,2,2,2],
[6,6,5,5,5,5,4,4,4,3,3,3,3,3,3,3,3,2,2,2,2,2,2,2,2,2,2,2,2,2,2,2],
[2,2,2,2,2,2,2,2,2,2,2,2,2,1,1,1,1,1,1,1,1,1,1,1,1,1,1,1,1,1,1,1],
[3,3,4,4,3,3,3,3,3,3,3,2,2,2,2,2,2,2,2,2,2,2,2,3,3,3,2,2,2,2,2,2],
[5,5,6,6,6,6,4,4,8,8,7,7,8,8,7,7,6,6,5,5,6,6,6,6,7,7,6,6,5,5,4,4],
[3,3,4,4,3,3,6,6,4,4,3,3,4,4,4,4,3,3,3,3,3,3,2,2,3,3,2,2,2,1,2,2],
[3,3,6,6,3,3,5,5,4,4,4,5,3,4,4,6,3,3,3,3,3,4,3,4,4,5,5,4,3,3,2,2],
[2,2,6,6,4,4,2,2,5,5,6,6,4,5,6,2,2,2,2,3,3,3,3,2,2,2,2,3,3,3,3,3],
[4,4,6,6,2,2,4,2,5,6,2,2,3,5,5,4,3,3,3,3,3,3,3,3,3,3,3,3,2,2,2,2],
[3,3,5,5,4,4,6,6,5,5,6,6,7,7,4,4,3,3,3,3,4,4,5,5,6,6,4,4,3,3,3,3],
[2,2,4,4,3,3,9,9,8,7,7,6,6,5,5,5,4,4,4,4,3,3,3,3,2,2,2,2,2,2,2,2],
[4,4,5,5,3,3,4,4,4,4,4,4,3,3,3,3,2,2,2,2,2,2,2,2,2,2,1,1,1,2,2,2],
[5,5,6,6,8,8,7,7,5,5,4,3,4,4,4,4,3,3,3,3,3,3,3,3,3,4,4,4,3,3,3,3],
[8,9,9,8,6,6,4,4,4,4,5,5,4,4,3,3,2,2,2,2,2,4,4,4,4,3,3,3,3,3,4,4],
[9,9,9,7,7,6,8,9,8,8,8,7,7,6,6,6,6,5,5,5,5,6,6,7,7,8,8,7,7,6,6,5],
[9,9,8,8,8,8,8,8,7,7,7,6,6,5,5,5,5,4,4,4,3,3,3,3,4,4,5,6,6,6,6,6],
[7,7,7,7,6,6,9,9,8,8,7,7,7,7,7,7,8,8,7,7,6,6,5,5,4,4,4,4,3,3,3,3]
];

/* ---------- helpers ---------- */
const NS='http://www.w3.org/2000/svg';
function mk(parent,tag,attrs,txt){
  const el=document.createElementNS(NS,tag);
  for(const k in attrs) el.setAttribute(k,attrs[k]);
  if(txt!==undefined) el.textContent=txt;
  parent.appendChild(el);
  return el;
}

/* ---------- panel f ---------- */
const frameX=f=>178.3+f/3;
const cellBase=[367.3,406.7,472.7];
const valueY=(v,i)=>cellBase[i]-v/3;
const bandTop=345,bandBottom=477;
const fBands=document.getElementById('fBands');
centerBandStart.forEach((s,i)=>{
  const el=mk(fBands,'rect',{x:frameX(s),y:bandTop,width:frameX(centerBandEnd[i])-frameX(s),height:bandBottom-bandTop,fill:'#f8c3c5'});
  
  
});
cornerBandStart.forEach((s,i)=>{
  const el=mk(fBands,'rect',{x:frameX(s),y:bandTop,width:frameX(cornerBandEnd[i])-frameX(s),height:bandBottom-bandTop,fill:'#d8e5f3'});
  
  
});
const fTraces=document.getElementById('fTraces');
[[cell1Frames,cell1Values,cell1Peaks],[cell2Frames,cell2Values,cell2Peaks],[cell3Frames,cell3Values,cell3Peaks]].forEach((c,i)=>{
  let d='';
  c[0].forEach((f,j)=>{
    const x=frameX(f),y=valueY(c[1][j],i);
    if(!j){d+='M'+x.toFixed(2)+','+y.toFixed(2);return;}
    const px=frameX(c[0][j-1]),py=valueY(c[1][j-1],i);
    if(y>py+0.01){
      d+=' Q'+(px+0.35*(x-px)).toFixed(2)+','+(py+0.72*(y-py)).toFixed(2)+' '+x.toFixed(2)+','+y.toFixed(2);
    }else{
      d+=' L'+x.toFixed(2)+','+y.toFixed(2);
    }
  });
  const line=mk(fTraces,'path',{d:d,fill:'none',stroke:'#222',"stroke-width":1.15,"stroke-linejoin":"round"});
  
  
  c[2].forEach(p=>{
    const idx=c[0].indexOf(p);
    const x=frameX(p),y=valueY(c[1][idx],i)-6.5;
    const tri=mk(fTraces,'path',{d:`M${x-3.5},${y-2.8} H${x+3.5} L${x},${y+2.8}Z`,fill:'#ee1122'});
    
    
  });
});

/* ---------- panel g ---------- */
const gChart=document.getElementById('gChart');
const gY=v=>471-v*19.74;
const gCenters=[621,650.3,679.7];
const gBarColors=['#fbc9cb','#b3cfe9','#c9c9c9'];
[centerEvents,cornerEvents,closedEvents].forEach((arr,i)=>{
  const bar=mk(gChart,'rect',{x:gCenters[i]-11.3,y:gY(eventMeans[i]),width:22.6,height:gY(0)-gY(eventMeans[i]),fill:gBarColors[i]});
  
  
  arr.forEach(v=>{
    const pt=mk(gChart,'circle',{cx:gCenters[i],cy:gY(v),r:3.2,fill:'none',stroke:'#a8a8a8',"stroke-width":1});
    
    
  });
  const lab=mk(gChart,'text',{transform:`translate(${gCenters[i]+7},487) rotate(-36)`,class:'e'},eventCategories[i]);
  
  
});
const axis=mk(gChart,'path',{d:`M606,${gY(5)} V${gY(0)} M601,${gY(0)} H692`,fill:'none',stroke:'#555'});


eventTicks.forEach(t=>{
  const tk=mk(gChart,'path',{d:`M601,${gY(t)} H606`,stroke:'#555'});
  
  
  const lb=mk(gChart,'text',{x:589,y:gY(t)+5,class:'m',style:'font-size:14px'},t);
  
  
});

/* ---------- panel h ---------- */
const levelColors=['#3a2fa8','#3f4fdf','#2f70e2','#2392d8','#10aecb','#2cb9a0','#5fbe80','#9fbf60','#f0bd40','#f9f020'];
const levelColor=v=>levelColors[Math.max(0,Math.min(9,Math.round(v)))];
const heatGroup=document.getElementById('heatGroup');
const heatTop=582,heatHeight=206;
function drawHeat(rows,x0,w,x0Tick,zeroX,xEnd){
  const rh=heatHeight/rows.length;
  const cw=w/rows[0].length;
  rows.forEach((row,r)=>row.forEach((v,c)=>{
    const cell=mk(heatGroup,'rect',{x:(x0+c*cw).toFixed(2),y:(heatTop+r*rh).toFixed(2),width:(cw+.3).toFixed(2),height:(rh+.3).toFixed(2),fill:levelColor(v)});
    
    
  }));
  const tickX=t=>t<0?x0Tick+(t+5)/5*(zeroX-x0Tick):zeroX+t/15*(xEnd-zeroX);
  const dash=mk(heatGroup,'line',{x1:tickX(0),x2:tickX(0),y1:heatTop,y2:heatTop+heatHeight,stroke:'#fff',"stroke-width":1.3,"stroke-dasharray":"5 3"});
  
  
  const mark=mk(heatGroup,'path',{d:`M${tickX(0)-3},577 H${tickX(0)+3} L${tickX(0)},581.5Z`,fill:'#111'});
  
  
  timeTicks.forEach(t=>{
    const lb=mk(heatGroup,'text',{x:tickX(t),y:804,class:'m'},t);
    
    
  });
}
drawHeat(heatCenter,40,159,43,95,199);
drawHeat(heatCorner,213,159,215,267.5,371);
epochTicks.forEach(e=>{
  const lb=mk(heatGroup,'text',{x:37,y:582+e*1.62+4,class:'e'},e);
  
  
});
for(let i=0;i<60;i++){
  const seg=mk(heatGroup,'rect',{x:376,y:(heatTop+i*heatHeight/60).toFixed(2),width:8.5,height:(heatHeight/60+.4).toFixed(2),fill:(function(){
    const v=9*(1-i/59);const a=Math.floor(v),b=Math.min(9,a+1),f=v-a;
    const h=s=>[1,3,5].map(k=>parseInt(s.substr(k,2),16));
    const ca=h(levelColors[a]),cb=h(levelColors[b]);
    return 'rgb('+ca.map((q,k)=>Math.round(q+(cb[k]-q)*f)).join(',')+')';
  })()});
  
  
}

/* ---------- panel i ---------- */
const pies=document.getElementById('pies');
const pieRadius=41;
function drawPie(cx,cy,vals,colors,labels){
  let start=0;
  vals.forEach((v,i)=>{
    const a0=start/100*2*Math.PI,a1=(start+v)/100*2*Math.PI;
    const large=v>50?1:0;
    const x0=cx+pieRadius*Math.sin(a0),y0=cy-pieRadius*Math.cos(a0),x1=cx+pieRadius*Math.sin(a1),y1=cy-pieRadius*Math.cos(a1);
    const slice=mk(pies,'path',{d:`M${cx},${cy} L${x0},${y0} A${pieRadius},${pieRadius} 0 ${large} 1 ${x1},${y1}Z`,fill:colors[i],stroke:'#111',"stroke-width":.9});
    
    
    const lb=mk(pies,'text',{x:labels[i][0],y:labels[i][1],class:'m',style:'font-size:12.8px;fill:'+labels[i][2]},v.toFixed(1));
    
    
    start+=v;
  });
}
drawPie(500,596,pieCenterAll,['#ffc000','#000099'],[[509,618,'#111'],[479,586,'#fff']]);
drawPie(615.7,596,pieCenterResp,['#ffe8a8','#bf9000'],[[633,580,'#111'],[608,618,'#fff']]);
drawPie(499,726.7,pieCornerAll,['#ffc000','#000099'],[[516,715,'#111'],[491,751,'#fff']]);
drawPie(615.7,726.7,pieCornerResp,['#ffe8a8','#bf9000'],[[635,718,'#111'],[608,751,'#fff']]);
</script>
</body>
</html>
